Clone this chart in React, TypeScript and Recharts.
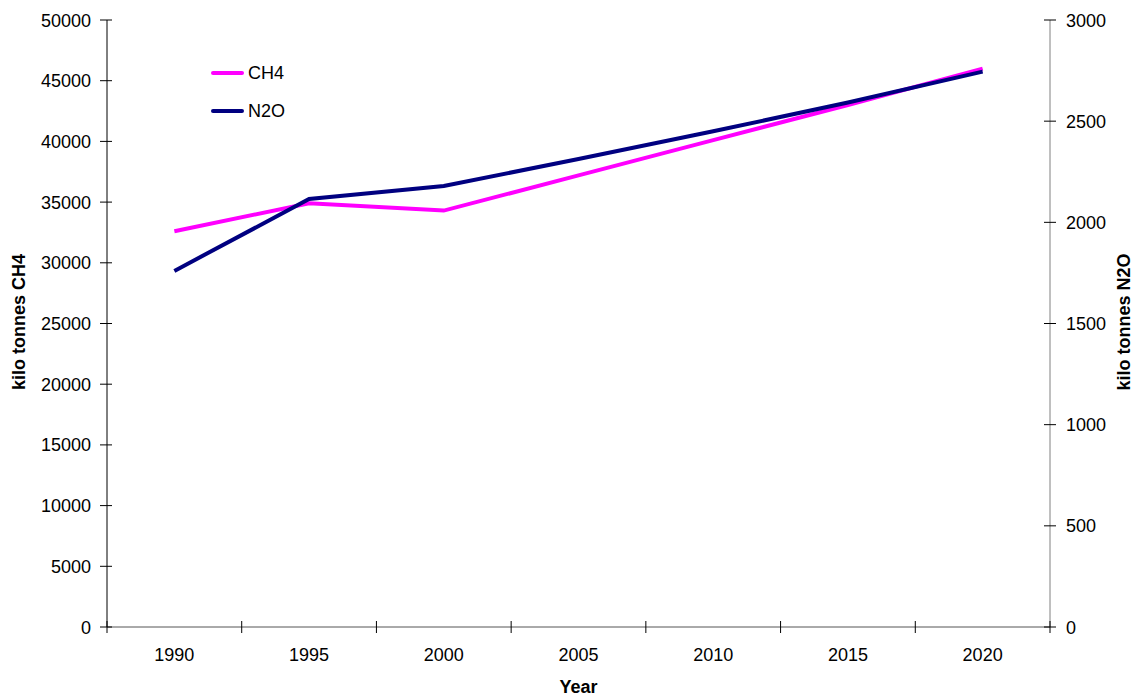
import { Label, Legend, Line, LineChart, XAxis, YAxis } from "recharts";

// emissions by year, left axis CH4, right axis N2O (kilo tonnes)
const years = ["1990", "1995", "2000", "2005", "2010", "2015", "2020"];
const ch4 = [32600, 34900, 34300, 37200, 40100, 43000, 46000];
const n2o = [1760, 2115, 2180, 2313, 2450, 2592, 2745];
const ch4Ticks = [0, 5000, 10000, 15000, 20000, 25000, 30000, 35000, 40000, 45000, 50000];
const n2oTicks = [0, 500, 1000, 1500, 2000, 2500, 3000];

const rows = years.map((year, i) => ({ year, ch4: ch4[i], n2o: n2o[i] }));

const W = 1134;
const H = 697;
const TOP = 20;
const LEFT_W = 107;
const RIGHT_W = 84;
const BOTTOM_H = 70;
const PLOT_RIGHT = W - RIGHT_W;
const AXIS_Y = H - BOTTOM_H;
const HALF = (PLOT_RIGHT - LEFT_W) / years.length / 2;
const FONT = "'Liberation Sans', Arial, Helvetica, sans-serif";

const series = [
  { key: "ch4", name: "CH4", color: "#FF00FF" },
  { key: "n2o", name: "N2O", color: "#000080" },
];

function LeftTick({ x, y, payload }: any) {
  return (
    <g>
      <line x1={LEFT_W - 7} x2={LEFT_W + 5} y1={y} y2={y} stroke="#000" />
      <text x={x} y={y} dy={6.5} textAnchor="end" fontSize={18} fontFamily={FONT} fill="#000">
        {payload.value}
      </text>
    </g>
  );
}

function RightTick({ x, y, payload }: any) {
  return (
    <g>
      <line x1={PLOT_RIGHT - 6} x2={PLOT_RIGHT + 6} y1={y} y2={y} stroke="#000" />
      <text x={x} y={y} dy={6.5} textAnchor="start" fontSize={18} fontFamily={FONT} fill="#000">
        {payload.value}
      </text>
    </g>
  );
}

// tick marks sit between categories, labels in the middle
function YearTick({ x, payload }: any) {
  const last = payload.value === years[years.length - 1];
  return (
    <g>
      <line x1={x - HALF} x2={x - HALF} y1={AXIS_Y - 6} y2={AXIS_Y + 6} stroke="#000" />
      {last && <line x1={x + HALF} x2={x + HALF} y1={AXIS_Y - 6} y2={AXIS_Y + 6} stroke="#000" />}
      <text x={x} y={AXIS_Y + 34} textAnchor="middle" fontSize={18} fontFamily={FONT} fill="#000">
        {payload.value}
      </text>
    </g>
  );
}

function LegendBox() {
  return (
    <div style={{ fontFamily: FONT, fontSize: 18, color: "#000" }}>
      {series.map((s) => (
        <div key={s.key} style={{ display: "flex", alignItems: "center", height: 38 }}>
          <span style={{ width: 33, height: 4, background: s.color, borderRadius: 2 }} />
          <span style={{ marginLeft: 4 }}>{s.name}</span>
        </div>
      ))}
    </div>
  );
}

export default function App() {
  return (
    <div style={{ position: "absolute", left: 0, top: 0, width: W, height: H, background: "#fff" }}>
      <LineChart width={W} height={H} data={rows} margin={{ top: TOP, right: 0, bottom: 0, left: 0 }}>
        <XAxis
          dataKey="year"
          height={BOTTOM_H}
          interval={0}
          padding={{ left: HALF, right: HALF }}
          axisLine={{ stroke: "#555" }}
          tickLine={false}
          tickSize={6}
          tickMargin={8}
          tick={YearTick}
        >
          <Label
            content={() => (
              <text x={(LEFT_W + PLOT_RIGHT) / 2} y={693} textAnchor="middle" fontSize={18} fontWeight="bold" fontFamily={FONT} fill="#000">
                Year
              </text>
            )}
          />
        </XAxis>
        <YAxis
          yAxisId="left"
          orientation="left"
          width={LEFT_W}
          domain={[0, 50000]}
          ticks={ch4Ticks}
          interval={0}
          axisLine={{ stroke: "#000" }}
          tickLine={false}
          tickSize={7}
          tickMargin={9}
          tick={LeftTick}
        >
          <Label
            content={() => (
              <text x={19} y={322} transform="rotate(-90 19 322)" textAnchor="middle" dominantBaseline="central" fontSize={18} fontWeight="bold" fontFamily={FONT} fill="#000">
                kilo tonnes CH4
              </text>
            )}
          />
        </YAxis>
        <YAxis
          yAxisId="right"
          orientation="right"
          width={RIGHT_W}
          domain={[0, 3000]}
          ticks={n2oTicks}
          interval={0}
          axisLine={{ stroke: "#808080" }}
          tickLine={false}
          tickSize={6}
          tickMargin={10}
          tick={RightTick}
        >
          <Label
            content={() => (
              <text x={1124} y={322} transform="rotate(-90 1124 322)" textAnchor="middle" dominantBaseline="central" fontSize={18} fontWeight="bold" fontFamily={FONT} fill="#000">
                kilo tonnes N2O
              </text>
            )}
          />
        </YAxis>
        <Legend
          layout="vertical"
          align="center"
          verticalAlign="middle"
          wrapperStyle={{ left: 211, top: 54, width: 110 }}
          content={() => <LegendBox />}
        />
        <Line yAxisId="left" type="linear" dataKey="ch4" name="CH4" stroke="#FF00FF" strokeWidth={4} dot={false} isAnimationActive={false} />
        <Line yAxisId="right" type="linear" dataKey="n2o" name="N2O" stroke="#000080" strokeWidth={4} dot={false} isAnimationActive={false} />
      </LineChart>
    </div>
  );
}
